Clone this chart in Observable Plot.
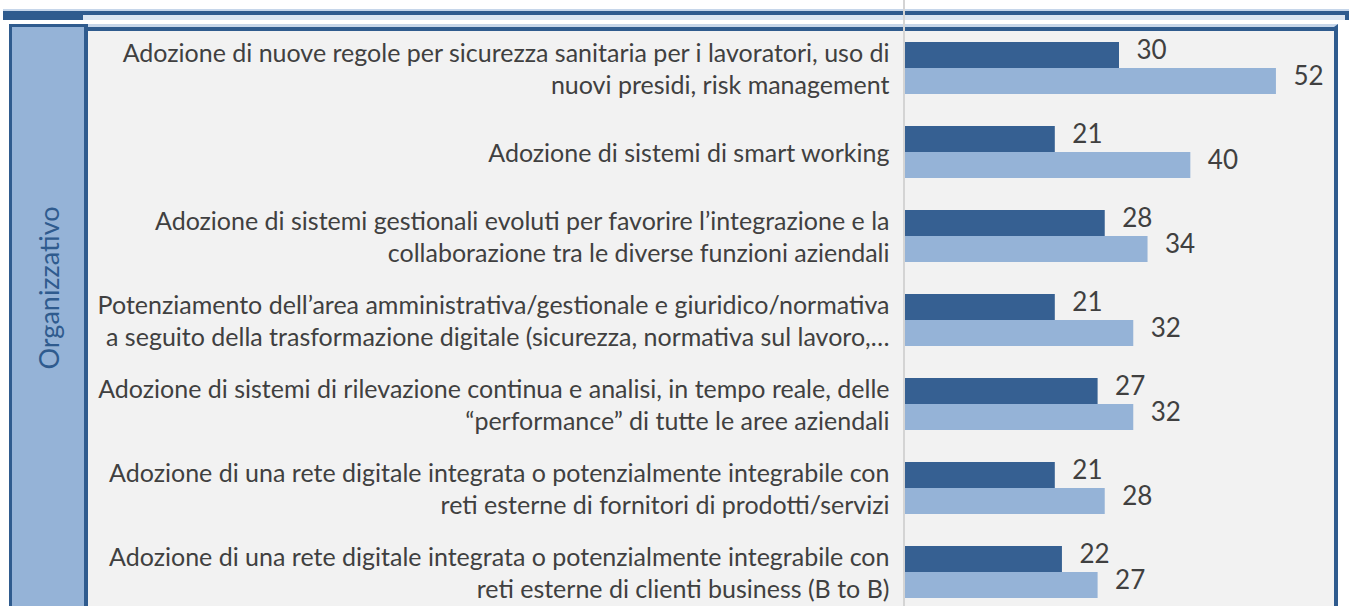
<!DOCTYPE html>
<html><head><meta charset="utf-8">
<script src="https://cdn.jsdelivr.net/npm/d3@7"></script>
<script src="https://cdn.jsdelivr.net/npm/@observablehq/plot@0.6"></script>
<style>
html,body{margin:0;padding:0;background:#fff;overflow:hidden;}
#root{position:relative;width:1352px;height:606px;overflow:hidden;background:#fff;font-family:Lato,"Open Sans",sans-serif;}
.abs{position:absolute;box-sizing:border-box;}
#chart{position:absolute;left:88px;top:0;}
#chart svg{overflow:visible;}
</style></head><body>
<div id="root">
  <!-- bottom of previous panel -->
  <div class="abs" style="left:3px;top:9px;width:1346px;height:2px;background:#c6d6ea"></div>
  <div class="abs" style="left:3px;top:11px;width:1346px;height:4px;background:#2f5b8e"></div>
  <div class="abs" style="left:83px;top:15px;width:1262px;height:5px;background:#dbe5f1"></div>
  <div class="abs" style="left:3px;top:11px;width:80px;height:9px;background:#2f5b8e"></div>
  <div class="abs" style="left:1345px;top:11px;width:4px;height:9px;background:#2f5b8e"></div>
  <!-- left category panel -->
  <div class="abs" style="left:9px;top:24px;width:79px;height:620px;background:#95b3d7;border:3px solid #2f5b8e;border-bottom:none;border-right-width:4px"></div>
  <!-- plot area box -->
  <div class="abs" style="left:88px;top:24px;width:1250px;height:620px;background:#f2f2f2;border-top:3px solid #c6d6ea;border-right:4px solid #2f5b8e"></div>
  <div class="abs" style="left:88px;top:27px;width:1250px;height:4px;background:#2f5b8e"></div>
  <div id="group" class="abs" style="left:48px;top:288px;width:0;height:0">
    <div style="position:absolute;transform:translate(-50%,-50%) rotate(-90deg);white-space:nowrap;font-size:27px;color:#2f5b8e;font-family:Lato,sans-serif">Organizzativo</div>
  </div>
  <div id="axisline" class="abs" style="top:0;width:2px;height:606px;background:#d4d4d4"></div>
  <div id="chart"></div>
</div>
<script>
const categories = [
  "Adozione di nuove regole per sicurezza sanitaria per i lavoratori, uso di\nnuovi presidi, risk management",
  "Adozione di sistemi di smart working",
  "Adozione di sistemi gestionali evoluti per favorire l’integrazione e la\ncollaborazione tra le diverse funzioni aziendali",
  "Potenziamento dell’area amministrativa/gestionale e giuridico/normativa\na seguito della trasformazione digitale (sicurezza, normativa sul lavoro,…",
  "Adozione di sistemi di rilevazione continua e analisi, in tempo reale, delle\n“performance” di tutte le aree aziendali",
  "Adozione di una rete digitale integrata o potenzialmente integrabile con\nreti esterne di fornitori di prodotti/servizi",
  "Adozione di una rete digitale integrata o potenzialmente integrabile con\nreti esterne di clienti business (B to B)"
];
const series = ["Serie 1", "Serie 2"];
const values1 = [30, 21, 28, 21, 27, 21, 22];
const values2 = [52, 40, 34, 32, 32, 28, 27];
const colors = ["#366092", "#95b3d7"];

const data = categories.flatMap((c, i) => [
  {category: c, series: series[0], value: values1[i]},
  {category: c, series: series[1], value: values2[i]}
]);

const plot = Plot.plot({
  width: 1245, height: 606,
  marginLeft: 817, marginRight: 0, marginTop: 38, marginBottom: 6,
  style: {background: "transparent", fontFamily: "Lato, sans-serif", overflow: "visible"},
  x: {domain: [0, 60], axis: null},
  y: {domain: series, padding: 0, axis: null},
  fy: {domain: categories, paddingInner: 0.375, paddingOuter: 0},
  color: {domain: series, range: colors},
  marks: [
    Plot.barX(data, {x: "value", y: "series", fy: "category", fill: "series"}),
    Plot.text(data, {x: "value", y: "series", fy: "category", text: d => String(d.value),
      textAnchor: "start", dx: 17, dy: -5, fontSize: 26, fill: "#404040"}),
    Plot.axisFy({anchor: "left", tickSize: 0, tickPadding: 16, fontSize: 25, lineHeight: 1.28,
      color: "#404040", label: null})
  ]
});
document.getElementById("chart").appendChild(plot);
const x0 = plot.scale("x").apply(0);
document.getElementById("axisline").style.left = (88 + x0 - 2) + "px";
</script>
</body></html>
